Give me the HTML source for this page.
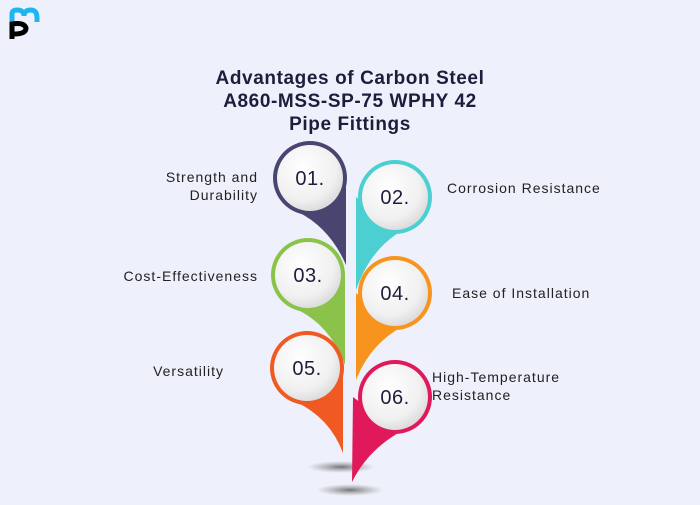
<!DOCTYPE html>
<html><head><meta charset="utf-8"><style>
body{margin:0;width:700px;height:500px;background:#eef0fb;overflow:hidden;font-family:"Liberation Sans",sans-serif;}
</style></head><body>
<svg width="700" height="500" xmlns="http://www.w3.org/2000/svg">
<defs>
<radialGradient id="w" cx="40%" cy="35%" r="70%"><stop offset="0" stop-color="#ffffff"/><stop offset="0.7" stop-color="#f0f0f0"/><stop offset="1" stop-color="#d8d8d8"/></radialGradient>
<radialGradient id="sh"><stop offset="0" stop-color="#555" stop-opacity="0.8"/><stop offset="1" stop-color="#888" stop-opacity="0"/></radialGradient>
</defs>
<path d="M12 22 L12 14 Q12 10 17 10 Q24 10 24 16 Q24 10 31 10 Q37 10 37 18 L37 22" fill="none" stroke="#1fb6f0" stroke-width="5"/>
<path d="M12 39 L12 24 Q24 22 26 28 Q26 34 14 34" fill="none" stroke="#000" stroke-width="5"/>
<g font-weight="bold" font-size="19" fill="#1e1e3c" text-anchor="middle" letter-spacing="0.6">
<text x="350" y="84">Advantages of Carbon Steel</text>
<text x="350" y="107">A860-MSS-SP-75 WPHY 42</text>
<text x="350" y="130">Pipe Fittings</text>
</g>
<ellipse cx="341" cy="467" rx="34" ry="6" fill="url(#sh)"/>
<ellipse cx="350" cy="490" rx="34" ry="6" fill="url(#sh)"/>
<g>
<path d="M346 178 L346 265 Q330 228 298 212 Z" fill="#4a4570"/>
<circle cx="310" cy="178" r="37" fill="#4a4570"/><circle cx="310" cy="178" r="33" fill="url(#w)"/>
</g>
<g>
<path d="M356 197 L356 290 Q370 250 400 232 Z" fill="#4bcfd0"/>
<circle cx="395" cy="197" r="37" fill="#4bcfd0"/><circle cx="395" cy="197" r="33" fill="url(#w)"/>
</g>
<g>
<path d="M345 275 L345 365 Q330 325 296 309 Z" fill="#8bc34a"/>
<circle cx="308" cy="275" r="37" fill="#8bc34a"/><circle cx="308" cy="275" r="33" fill="url(#w)"/>
</g>
<g>
<path d="M356 293 L356 380 Q370 345 400 328 Z" fill="#f7941d"/>
<circle cx="395" cy="293" r="37" fill="#f7941d"/><circle cx="395" cy="293" r="33" fill="url(#w)"/>
</g>
<g>
<path d="M343 368 L343 453 Q330 418 296 402 Z" fill="#f05a22"/>
<circle cx="307" cy="368" r="37" fill="#f05a22"/><circle cx="307" cy="368" r="33" fill="url(#w)"/>
</g>
<g>
<path d="M353 397 L352 482 Q368 450 400 432 Z" fill="#e0195a"/>
<circle cx="395" cy="397" r="37" fill="#e0195a"/><circle cx="395" cy="397" r="33" fill="url(#w)"/>
</g>
<g font-size="20" fill="#1e1e3c" text-anchor="middle" letter-spacing="0.5">
<text x="310" y="185">01.</text>
<text x="395" y="204">02.</text>
<text x="308" y="282">03.</text>
<text x="395" y="300">04.</text>
<text x="307" y="375">05.</text>
<text x="395" y="404">06.</text>
</g>
<g font-size="14" fill="#222" letter-spacing="1">
<text x="258" y="182" text-anchor="end">Strength and</text>
<text x="258" y="200" text-anchor="end">Durability</text>
<text x="447" y="193">Corrosion Resistance</text>
<text x="258" y="281" text-anchor="end">Cost-Effectiveness</text>
<text x="452" y="298">Ease of Installation</text>
<text x="224" y="376" text-anchor="end">Versatility</text>
<text x="432" y="382">High-Temperature</text>
<text x="432" y="400">Resistance</text>
</g>
</svg>
</body></html>
